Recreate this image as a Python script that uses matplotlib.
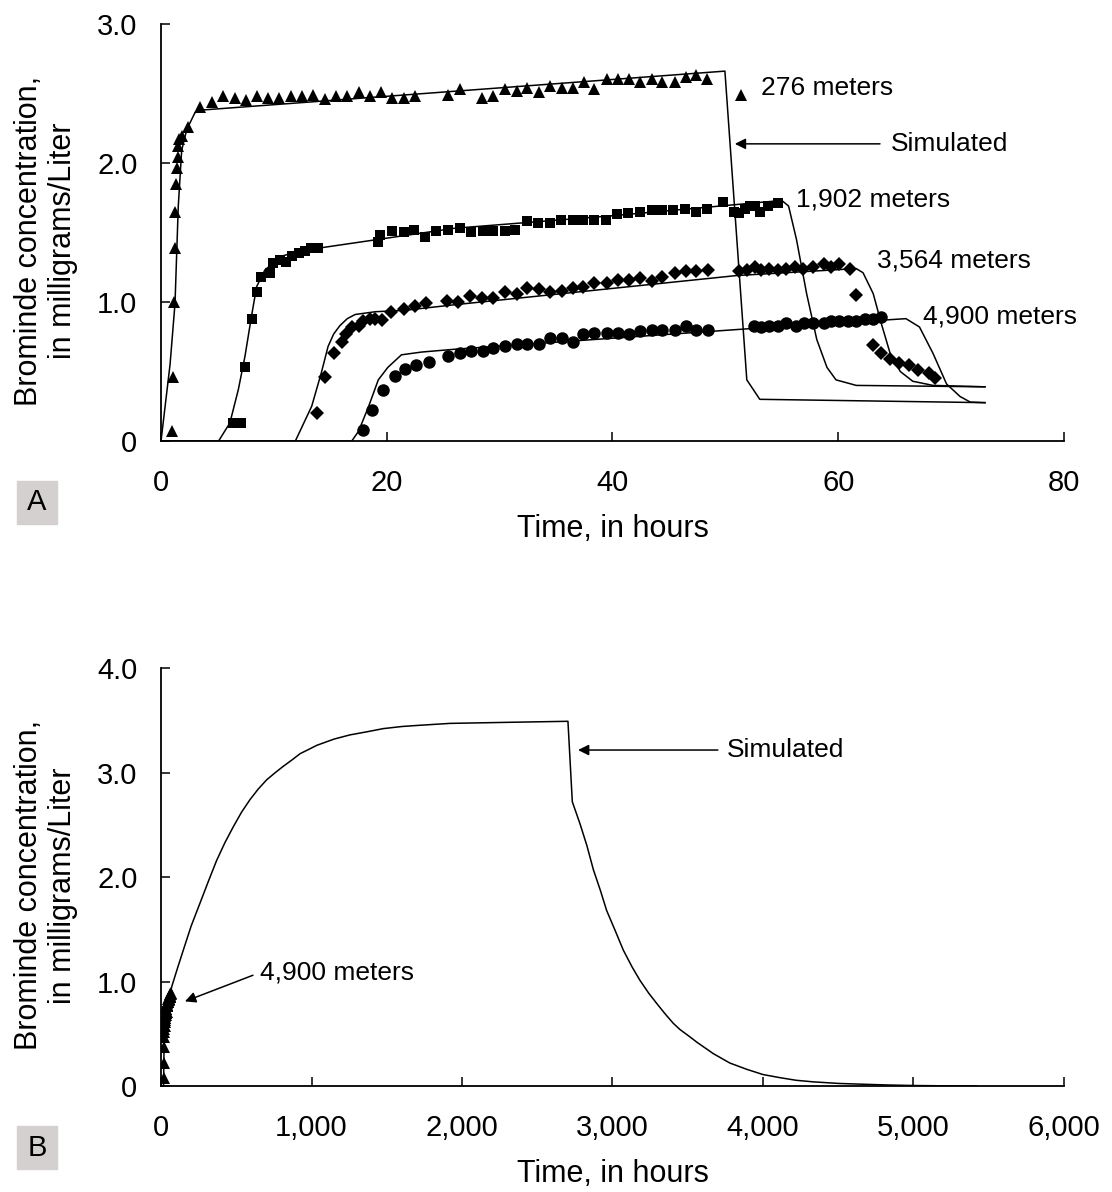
import matplotlib.pyplot as plt
from matplotlib.patches import Rectangle

plt.rcParams['font.family'] = ['Liberation Sans', 'DejaVu Sans']

# ---- panel A: observed data (hours, mg/L) ----
t276 = [1.0, 1.09, 1.18, 1.24, 1.24, 1.3, 1.39, 1.48, 1.5, 1.6, 1.9, 2.42, 3.45, 4.49, 5.52, 6.55,
        7.5, 8.47, 9.5, 10.48, 11.5, 12.5, 13.5, 14.5, 15.5, 16.5, 17.5, 18.5, 19.5, 20.5, 21.5,
        22.5, 25.45, 26.5, 28.4, 29.4, 30.5, 31.5, 32.4, 33.5, 34.5, 35.5, 36.5, 37.5, 38.4, 39.5,
        40.5, 41.5, 42.4, 43.5, 44.4, 45.5, 46.5, 47.4, 48.4, 51.4]
c276 = [0.07, 0.46, 1.0, 1.39, 1.65, 1.85, 1.96, 2.04, 2.12, 2.17, 2.19, 2.26, 2.40, 2.44, 2.48, 2.47,
        2.45, 2.48, 2.47, 2.47, 2.48, 2.48, 2.49, 2.46, 2.48, 2.48, 2.51, 2.48, 2.51, 2.47, 2.47,
        2.48, 2.49, 2.53, 2.47, 2.48, 2.53, 2.52, 2.54, 2.51, 2.55, 2.54, 2.54, 2.58, 2.53, 2.60,
        2.60, 2.60, 2.58, 2.60, 2.58, 2.58, 2.62, 2.63, 2.60, 2.49]

t1902 = [6.4, 7.1, 7.44, 8.03, 8.48, 8.9, 9.65, 9.95, 10.5, 11.1, 11.6, 12.2, 12.8, 13.3, 13.9,
         19.2, 19.4, 20.5, 21.5, 22.4, 23.4, 24.4, 25.4, 26.5, 27.5, 28.5, 29.4, 30.5, 31.4, 32.4,
         33.4, 34.5, 35.4, 36.5, 37.4, 38.4, 39.4, 40.4, 41.4, 42.4, 43.5, 44.4, 45.4, 46.4, 47.4,
         48.4, 49.8, 50.8, 51.2, 51.7, 52.2, 52.6, 53.1, 53.8, 54.7]
c1902 = [0.13, 0.13, 0.53, 0.88, 1.07, 1.18, 1.21, 1.28, 1.30, 1.29, 1.33, 1.35, 1.37, 1.39, 1.39,
         1.43, 1.48, 1.51, 1.50, 1.52, 1.47, 1.51, 1.52, 1.53, 1.50, 1.51, 1.51, 1.51, 1.52, 1.58,
         1.57, 1.57, 1.59, 1.59, 1.59, 1.59, 1.59, 1.63, 1.64, 1.65, 1.66, 1.66, 1.66, 1.67, 1.65,
         1.67, 1.72, 1.65, 1.64, 1.67, 1.69, 1.69, 1.65, 1.69, 1.71]

t3564 = [13.8, 14.5, 15.3, 16.0, 16.4, 16.9, 17.5, 17.9, 18.5, 19.0, 19.55, 20.4, 21.5, 22.5, 23.5,
         25.3, 26.3, 27.4, 28.4, 29.4, 30.5, 31.5, 32.4, 33.5, 34.5, 35.5, 36.5, 37.4, 38.4, 39.5,
         40.5, 41.5, 42.4, 43.5, 44.4, 45.5, 46.5, 47.4, 48.5, 51.2, 51.9, 52.6, 53.2, 53.9, 54.7,
         55.4, 56.2, 56.9, 57.8, 58.7, 59.4, 60.1, 61.0, 61.6, 63.1, 63.8, 64.6, 65.4, 66.3, 67.1,
         68.0, 68.6]
c3564 = [0.20, 0.46, 0.63, 0.71, 0.77, 0.82, 0.83, 0.86, 0.88, 0.88, 0.87, 0.93, 0.95, 0.97, 0.99,
         1.01, 1.00, 1.04, 1.03, 1.03, 1.07, 1.06, 1.10, 1.09, 1.07, 1.08, 1.10, 1.11, 1.14, 1.14,
         1.16, 1.16, 1.17, 1.15, 1.18, 1.21, 1.22, 1.22, 1.23, 1.22, 1.23, 1.25, 1.23, 1.24, 1.23,
         1.24, 1.25, 1.24, 1.25, 1.27, 1.25, 1.27, 1.24, 1.05, 0.69, 0.63, 0.59, 0.56, 0.55, 0.51,
         0.49, 0.45]

t4900 = [17.9, 18.7, 19.7, 20.7, 21.6, 22.6, 23.7, 25.45, 26.5, 27.5, 28.5, 29.4, 30.5, 31.5, 32.4,
         33.5, 34.5, 35.5, 36.5, 37.4, 38.4, 39.5, 40.5, 41.5, 42.4, 43.5, 44.4, 45.5, 46.5, 47.4,
         48.5, 52.5, 53.2, 53.9, 54.7, 55.4, 56.3, 57.0, 57.8, 58.7, 59.4, 60.1, 60.9, 61.6, 62.4,
         63.1, 63.8]
c4900 = [0.08, 0.22, 0.37, 0.47, 0.52, 0.55, 0.57, 0.61, 0.63, 0.65, 0.65, 0.67, 0.68, 0.70, 0.70,
         0.70, 0.74, 0.74, 0.71, 0.77, 0.78, 0.78, 0.78, 0.77, 0.79, 0.80, 0.80, 0.80, 0.83, 0.80,
         0.80, 0.83, 0.82, 0.83, 0.83, 0.85, 0.83, 0.85, 0.85, 0.85, 0.86, 0.86, 0.86, 0.86, 0.88,
         0.88, 0.89]

# ---- panel A: simulated curves ----
sim276_t = [0, 0.8, 1.24, 1.53, 1.83, 2.28, 3.0, 3.6, 49.96, 51.9, 53.05, 73.0]
sim276_c = [0, 0.55, 0.99, 1.69, 2.09, 2.24, 2.36, 2.38, 2.66, 0.44, 0.30, 0.276]

sim1902_t = [0, 5.1, 6.1, 6.85, 7.44, 8.0, 8.47, 9.2, 10.7, 12.5, 14.2, 26.0, 40.0, 55.0, 55.6,
             56.3, 57.2, 58.1, 59.0, 59.8, 61.6, 73.0]
sim1902_c = [0, 0, 0.13, 0.37, 0.61, 0.89, 1.11, 1.23, 1.33, 1.37, 1.39, 1.53, 1.62, 1.73, 1.69,
             1.45, 1.06, 0.73, 0.53, 0.44, 0.40, 0.39]

sim3564_t = [0, 11.9, 13.35, 14.2, 14.8, 15.3, 15.85, 16.5, 17.2, 19.0, 21.6, 26.0, 51.0, 61.6,
             62.2, 63.1, 63.8, 64.6, 65.5, 66.6, 68.4, 73.0]
sim3564_c = [0, 0, 0.25, 0.49, 0.68, 0.77, 0.83, 0.88, 0.91, 0.93, 0.94, 0.98, 1.19, 1.24,
             1.21, 1.06, 0.85, 0.63, 0.50, 0.43, 0.40, 0.39]

sim4900_t = [0, 16.9, 17.5, 18.4, 19.25, 20.1, 21.3, 23.1, 26.0, 52.5, 66.0, 67.2, 68.4, 69.6,
             70.8, 71.7, 73.0]
sim4900_c = [0, 0, 0.07, 0.25, 0.44, 0.53, 0.62, 0.64, 0.66, 0.81, 0.88, 0.82, 0.63, 0.41,
             0.32, 0.28, 0.276]

# ---- panel B: long-term simulation at 4,900 m ----
simB_t = [0, 17, 22, 71, 110, 148, 200, 259, 315, 370, 425, 480, 535, 591, 645, 702, 760, 813,
          870, 924, 980, 1035, 1150, 1256, 1370, 1477, 1600, 1699, 1920, 2300, 2704,
          2733, 2784, 2830, 2873, 2920, 2961, 3020, 3072, 3130, 3183, 3240, 3294, 3350, 3404,
          3449, 3515, 3560, 3670, 3780, 3892, 4000, 4113, 4220, 4334, 4500, 4667, 4830, 4999,
          5200, 5420]
simB_c = [0, 0, 0.62, 0.95, 1.13, 1.30, 1.53, 1.75, 1.96, 2.16, 2.33, 2.48, 2.62, 2.74, 2.84,
          2.93, 3.00, 3.06, 3.12, 3.18, 3.22, 3.26, 3.32, 3.36, 3.39, 3.42, 3.44, 3.45, 3.47,
          3.48, 3.49,
          2.72, 2.51, 2.30, 2.07, 1.87, 1.68, 1.48, 1.30, 1.14, 1.01, 0.89, 0.79, 0.69, 0.60,
          0.54, 0.47, 0.42, 0.31, 0.22, 0.16, 0.11, 0.08, 0.055, 0.04, 0.025, 0.017, 0.01, 0.005,
          0.002, 0.0]

xticksA = [0, 20, 40, 60, 80]
xlabelsA = ['0', '20', '40', '60', '80']
yticksA = [0, 1, 2, 3]
ylabelsA = ['0', '1.0', '2.0', '3.0']
xticksB = [0, 1000, 2000, 3000, 4000, 5000, 6000]
xlabelsB = ['0', '1,000', '2,000', '3,000', '4,000', '5,000', '6,000']
yticksB = [0, 1, 2, 3, 4]
ylabelsB = ['0', '1.0', '2.0', '3.0', '4.0']

ylab = 'Brominde concentration,\nin milligrams/Liter'

fig = plt.figure(figsize=(11.12, 11.92), dpi=100)
axA = fig.add_axes([0.1448, 0.630, 0.812, 0.350])
axB = fig.add_axes([0.1448, 0.0889, 0.812, 0.3507])


def style(ax, xt, xl, yt, yl):
    for s in ['top', 'right']:
        ax.spines[s].set_visible(False)
    for s in ['left', 'bottom']:
        ax.spines[s].set_linewidth(1.3)
    ax.set_xticks(xt)
    ax.set_xticklabels(xl)
    ax.set_yticks(yt)
    ax.set_yticklabels(yl)
    ax.tick_params(direction='in', length=6.5, width=1.1, labelsize=21)
    ax.tick_params(axis='x', pad=20)
    ax.tick_params(axis='y', pad=17)
    ax.set_xlabel('Time, in hours', fontsize=22)
    ax.set_ylabel(ylab, fontsize=22, multialignment='center', linespacing=1.15)
    ax.yaxis.set_label_coords(-0.092, 0.48)
    ax.xaxis.set_label_coords(0.5, -0.175)


# panel A
lw = 1.1
for t, c in [(sim276_t, sim276_c), (sim1902_t, sim1902_c),
             (sim3564_t, sim3564_c), (sim4900_t, sim4900_c)]:
    axA.plot(t, c, color='black', lw=lw)
axA.plot(t276, c276, '^', color='black', ms=8.5, mew=0)
axA.plot(t1902, c1902, 's', color='black', ms=6.5, mew=0)
axA.plot(t3564, c3564, 'D', color='black', ms=6.8, mew=0)
axA.plot(t4900, c4900, 'o', color='black', ms=9, mew=0)
axA.set_xlim(0, 80)
axA.set_ylim(0, 3)
style(axA, xticksA, xlabelsA, yticksA, ylabelsA)

arrow = dict(arrowstyle='-|>', color='black', lw=1.1, mutation_scale=16, shrinkA=0, shrinkB=0)
axA.text(53.2, 2.537, '276 meters', fontsize=19, va='center', ha='left')
axA.text(56.3, 1.734, '1,902 meters', fontsize=19, va='center', ha='left')
axA.text(63.4, 1.295, '3,564 meters', fontsize=19, va='center', ha='left')
axA.text(67.5, 0.894, '4,900 meters', fontsize=19, va='center', ha='left')
axA.text(64.66, 2.137, 'Simulated', fontsize=19, va='center', ha='left')
axA.annotate('', xy=(50.84, 2.137), xytext=(63.7, 2.137), arrowprops=arrow)

# panel B
axB.plot(simB_t, simB_c, color='black', lw=lw)
axB.plot(t4900, c4900, '^', color='black', ms=8.5, mew=0)
axB.set_xlim(0, 6000)
axB.set_ylim(0, 4)
style(axB, xticksB, xlabelsB, yticksB, ylabelsB)
axB.text(3761, 3.215, 'Simulated', fontsize=19, va='center', ha='left')
axB.annotate('', xy=(2771, 3.215), xytext=(3700, 3.215), arrowprops=arrow)
axB.text(658, 1.09, '4,900 meters', fontsize=19, va='center', ha='left')
axB.annotate('', xy=(159, 0.81), xytext=(611, 1.06), arrowprops=arrow)

# panel letters
for letter, ybox in [('A', 481), ('B', 1126)]:
    y0 = 1 - (ybox + 43) / 1192
    fig.patches.append(Rectangle((17 / 1112, y0), 40 / 1112, 43 / 1192,
                                 transform=fig.transFigure, color='#d4d0d0', zorder=0))
    fig.text(37 / 1112, y0 + 21.5 / 1192, letter, fontsize=21, ha='center', va='center')

fig.savefig('out.png', dpi=100)
